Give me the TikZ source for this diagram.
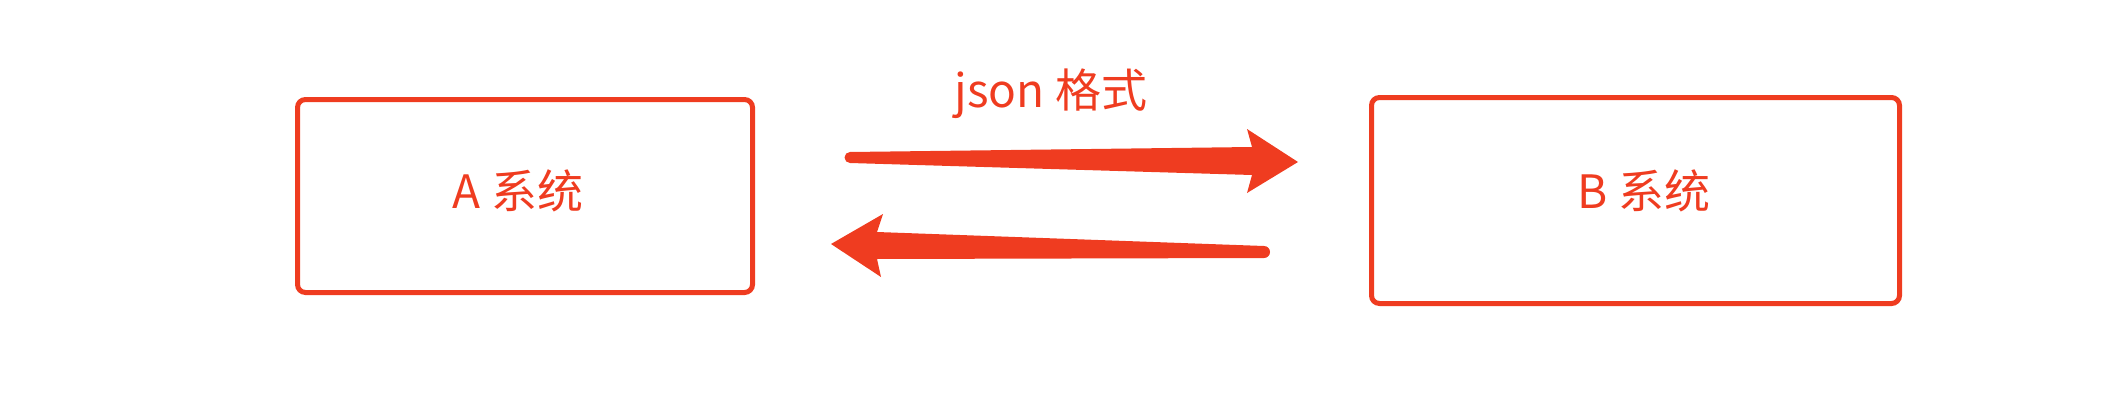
\documentclass[tikz,border=0pt]{standalone}
\usepackage{fontspec}
\setmainfont{Noto Sans CJK SC}
\definecolor{accent}{RGB}{239,60,32}
\begin{document}
\begin{tikzpicture}[x=1pt,y=1pt,
  sysbox/.style={draw=accent,line width=5pt,rounded corners=8pt,inner sep=0pt},
  lbl/.style={text=accent,font=\fontsize{46}{50}\selectfont,inner sep=0pt,anchor=base},
  arrowfill/.style={fill=accent,draw=none}]
\useasboundingbox (0,0) rectangle (2102,400);
% boxes
\node[sysbox,minimum width=455pt,minimum height=193pt] (A) at (525,204) {};
\node[sysbox,minimum width=528pt,minimum height=206pt] (B) at (1635.5,199.5) {};
% labels
\node[lbl] (Alab) at (518,192) {A 系统};
\node[lbl] (Blab) at (1644,192) {B 系统};
\node[lbl] (json) at (1051,293) {json 格式};
% arrow A -> B
\coordinate (r1) at (850,248);
\fill[arrowfill] (r1) -- (1252,253) -- (1247,271) -- (1298,238) -- (1247,207) -- (1252,225) -- (850,237)
  arc[start angle=-90,end angle=-270,radius=5.5] -- cycle;
% arrow B -> A
\coordinate (l1) at (831,156);
\fill[arrowfill] (l1) -- (883,186) -- (877,168) -- (1264,154)
  arc[start angle=90,end angle=-90,radius=6] -- (877,141) -- (881,123) -- cycle;
\end{tikzpicture}
\end{document}
